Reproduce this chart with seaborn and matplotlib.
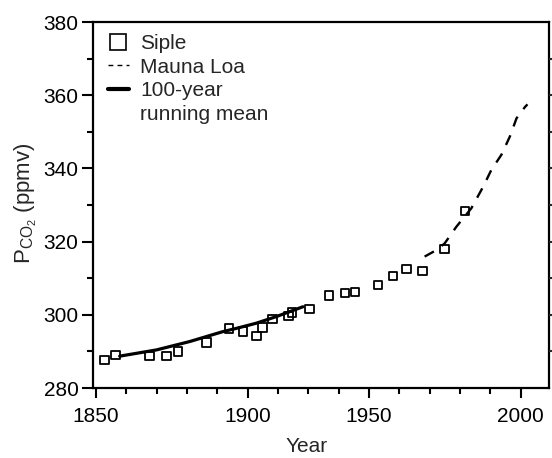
import matplotlib
matplotlib.use("Agg")
import matplotlib.pyplot as plt
from matplotlib.lines import Line2D
from matplotlib.ticker import FixedLocator, MultipleLocator
import seaborn as sns

# Siple ice core samples
siple_year = [1852.8, 1856.5, 1867.7, 1873.2, 1877.0, 1886.4, 1893.8, 1898.4,
              1902.8, 1904.8, 1908.1, 1913.5, 1914.6, 1920.4, 1926.8, 1932.0,
              1935.3, 1943.0, 1947.9, 1952.3, 1957.6, 1964.9, 1971.6]
siple_co2 = [287.7, 289.0, 288.7, 288.7, 289.9, 292.4, 296.2, 295.4,
             294.2, 296.6, 298.8, 299.7, 300.6, 301.6, 305.2, 305.9,
             306.2, 308.1, 310.6, 312.5, 312.0, 318.0, 328.4]

# Mauna Loa record
mauna_year = [1958.3, 1962.0, 1964.9, 1968.8, 1973.7, 1977.6, 1980.3,
              1983.6, 1986.4, 1988.6, 1991.3, 1992.2]
mauna_co2 = [315.9, 317.6, 319.5, 324.1, 329.1, 335.0, 339.6,
             343.7, 348.7, 353.7, 356.7, 357.5]

# 100-year running mean
mean_year = [1857.8, 1869.9, 1880.9, 1891.8, 1896.3, 1902.8, 1909.4, 1918.2]
mean_co2 = [288.7, 290.4, 292.7, 295.4, 296.3, 297.7, 299.5, 302.2]

xtick_pos = [1850, 1900, 1940, 1990]
xtick_labels = ["1850", "1900", "1950", "2000"]
xminor_pos = [1860, 1870, 1880, 1890, 1910, 1920, 1930, 1950, 1960, 1970, 1980]
right_ticks = [290, 300, 310, 320, 330, 340, 350, 360, 370]

sns.set_theme(style="ticks")
plt.rcParams['font.family'] = ['Liberation Sans', 'DejaVu Sans']
plt.rcParams['mathtext.fontset'] = 'custom'
plt.rcParams['mathtext.rm'] = 'Liberation Sans'
plt.rcParams['mathtext.it'] = 'Liberation Sans:italic'

fs = 15

fig = plt.figure(figsize=(5.52, 4.58), dpi=100)
ax = fig.add_axes([93 / 552, 1 - 388 / 458, 456 / 552, 366 / 458])

sns.scatterplot(x=siple_year, y=siple_co2, marker='s', s=38, facecolor='none',
                edgecolor='black', linewidth=1.3, ax=ax, zorder=2)
sns.lineplot(x=mauna_year, y=mauna_co2, color='black', lw=1.7,
             linestyle=(0, (4.5, 4)), ax=ax, zorder=3)
sns.lineplot(x=mean_year, y=mean_co2, color='black', lw=2.3, ax=ax, zorder=3)

ax.set_xlim(1849, 1999.3)
ax.set_ylim(280, 380)

ax.xaxis.set_major_locator(FixedLocator(xtick_pos))
ax.set_xticklabels(xtick_labels)
ax.xaxis.set_minor_locator(FixedLocator(xminor_pos))
ax.yaxis.set_major_locator(MultipleLocator(20))
ax.yaxis.set_minor_locator(MultipleLocator(10))

for s in ax.spines.values():
    s.set_linewidth(1.6)
    s.set_color('black')

ax.tick_params(axis='both', which='both', direction='out', width=1.5, colors='black',
               labelsize=fs, top=False, right=False)
ax.tick_params(axis='y', which='major', length=8, pad=2.5)
ax.tick_params(axis='y', which='minor', length=4.5)
ax.tick_params(axis='x', which='major', length=7, pad=7)
ax.tick_params(axis='x', which='minor', length=4.5)

# short ticks on the right spine
ax2 = ax.twinx()
ax2.set_ylim(280, 380)
ax2.yaxis.set_major_locator(FixedLocator(right_ticks))
ax2.tick_params(axis='y', direction='out', length=2.5, width=1.5, labelright=False)
for s in ax2.spines.values():
    s.set_visible(False)
ax2.grid(False)

ax.set_xlabel("Year", fontsize=fs)
ax.xaxis.set_label_coords(0.468, -0.134)
ax.set_ylabel(r"P$_{\mathregular{CO}_2}$ (ppmv)", fontsize=fs + 1)
ax.yaxis.set_label_coords(-0.119, 0.505)

# legend: the running-mean label wraps onto a second row with no handle
handles = [
    Line2D([], [], marker='s', ls='none', mfc='none', mec='black', ms=11, mew=1.2),
    Line2D([], [], color='black', ls=(0, (3.5, 3)), lw=1),
    Line2D([], [], color='black', lw=3),
    Line2D([], [], color='none', lw=0),
]
labels = ["Siple", "Mauna Loa", "100-year", "running mean"]
ax.legend(handles, labels, loc='upper left',
          bbox_to_anchor=(15 / 456, 1 - 12 / 366),
          borderaxespad=0, borderpad=0, frameon=False, fontsize=fs,
          handlelength=1.0, handletextpad=0.55, labelspacing=0.22)

fig.savefig("out.png", dpi=100)
